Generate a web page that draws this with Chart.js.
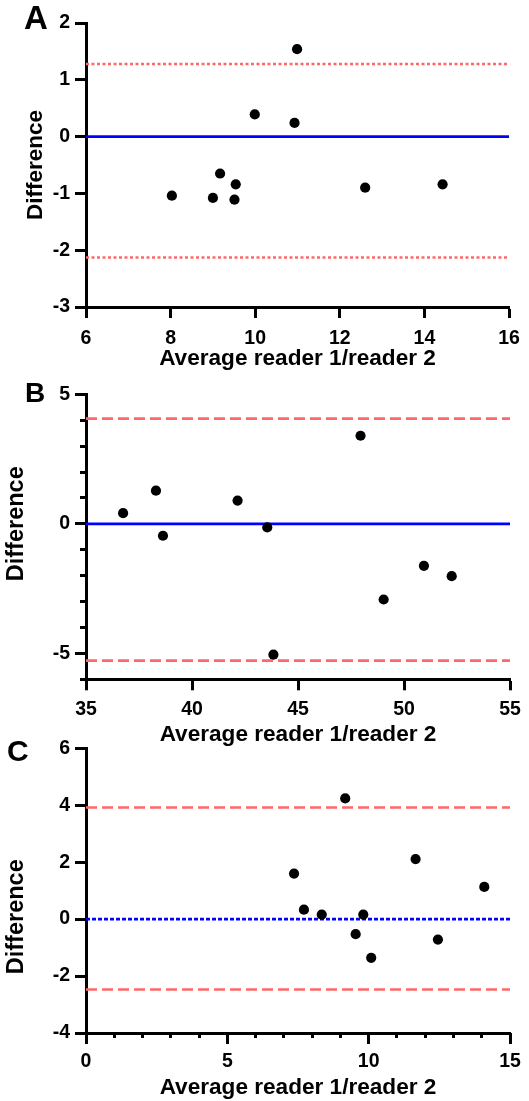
<!DOCTYPE html>
<html><head><meta charset="utf-8">
<script src="https://cdn.jsdelivr.net/npm/chart.js@4.4.0/dist/chart.umd.min.js"></script>
<style>
html,body{margin:0;padding:0;background:#fff;width:529px;height:1101px;overflow:hidden;position:relative;font-family:"Liberation Sans",Arial,sans-serif;}
canvas{position:absolute;left:0;}
.lbl{position:absolute;font-weight:bold;line-height:1;color:#000;font-family:"Liberation Sans",Arial,sans-serif;}
</style></head><body>
<canvas id="cA" width="529" height="372" style="top:0px;width:529px;height:372px"></canvas>
<canvas id="cB" width="529" height="382" style="top:370px;width:529px;height:382px"></canvas>
<canvas id="cC" width="529" height="376" style="top:725px;width:529px;height:376px"></canvas>
<div class="lbl" style="left:24px;top:1px;font-size:33px">A</div>
<div class="lbl" style="left:25px;top:379px;font-size:28px">B</div>
<div class="lbl" style="left:7px;top:736px;font-size:30px">C</div>
<script>
// ---- Panel A ----
const A_x = [8.03, 9.00, 9.17, 9.51, 9.54, 9.99, 10.93, 10.99, 12.60, 14.43];
const A_y = [-1.04, -1.08, -0.65, -1.11, -0.84, 0.39, 0.24, 1.54, -0.90, -0.84];
const A_mean = 0, A_upper = 1.28, A_lower = -2.13;
const A_xTicks = [6, 8, 10, 12, 14, 16];
const A_yTicks = [-3, -2, -1, 0, 1, 2];
// ---- Panel B ----
const B_x = [36.75, 38.30, 38.63, 42.15, 43.55, 43.84, 47.95, 49.04, 50.94, 52.25];
const B_y = [0.41, 1.28, -0.46, 0.90, -0.14, -5.05, 3.40, -2.92, -1.62, -2.02];
const B_mean = 0, B_upper = 4.06, B_lower = -5.28;
const B_xTicks = [35, 40, 45, 50, 55];
const B_yTicks = [-5, 0, 5];
const B_yMinor = [-6, -5, -4, -3, -2, -1, 0, 1, 2, 3, 4, 5];
// ---- Panel C ----
const C_x = [7.36, 7.71, 8.34, 9.17, 9.54, 9.81, 10.09, 11.66, 12.45, 14.09];
const C_y = [1.60, 0.33, 0.16, 4.24, -0.53, 0.16, -1.36, 2.11, -0.72, 1.13];
const C_mean = 0, C_upper = 3.92, C_lower = -2.47;
const C_xTicks = [0, 5, 10, 15];
const C_xMinor = [0, 1, 2, 3, 4, 5, 6, 7, 8, 9, 10, 11, 12, 13, 14, 15];
const C_yTicks = [-4, -2, 0, 2, 4, 6];

const X_TITLE = 'Average reader 1/reader 2';
const FAM = '"Liberation Sans", Arial, sans-serif';
const RED = '#ff6868', BLUE = '#0000ff';

function hline(xMin, xMax, y, color, dash, width) {
  return {
    type: 'scatter', showLine: true, data: [{x: xMin, y: y}, {x: xMax, y: y}],
    borderColor: color, borderWidth: width, borderDash: dash, pointRadius: 0,
    fill: false, borderCapStyle: 'butt'
  };
}

function panel(id, o) {
  const pts = o.xs.map((x, i) => ({x: x, y: o.ys[i]}));
  const scales = {};
  scales.x = {
    type: 'linear', position: 'bottom', min: o.xMin, max: o.xMax, weight: 0,
    afterBuildTicks: s => { s.ticks = o.xTicks.map(v => ({value: v})); },
    afterFit: s => { s.height = o.xAxisH; },
    grid: {drawOnChartArea: false, drawTicks: true, tickLength: 11, tickWidth: 3, tickColor: '#000'},
    border: {display: true, color: '#000', width: 3},
    ticks: {color: '#000', font: {family: FAM, size: 19.5, weight: 'bold'}, padding: o.xPad,
            maxRotation: 0, autoSkip: false, callback: v => String(v)},
    title: {display: true, text: X_TITLE, color: '#000',
            font: {family: FAM, size: 22.6, weight: 'bold'}, padding: {top: 0, bottom: o.xTitlePad}}
  };
  scales.y = {
    type: 'linear', position: 'left', min: o.yMin, max: o.yMax, weight: 0,
    afterBuildTicks: s => { s.ticks = o.yTicks.map(v => ({value: v})); },
    afterFit: s => { s.width = 86; },
    grid: {drawOnChartArea: false, drawTicks: true, tickLength: 11, tickWidth: 3, tickColor: '#000'},
    border: {display: true, color: '#000', width: 3},
    ticks: {color: '#000', font: {family: FAM, size: 19.5, weight: 'bold'}, padding: 5,
            autoSkip: false, callback: v => String(v)},
    title: {display: true, text: o.yTitle, color: '#000',
            font: {family: FAM, size: o.yTitleSize, weight: 'bold'}, padding: {top: o.yTitlePad, bottom: 0}}
  };
  if (o.xMinor) {
    scales.xm = {
      type: 'linear', position: {y: o.yMin}, axis: 'x', min: o.xMin, max: o.xMax,
      afterBuildTicks: s => { s.ticks = o.xMinor.map(v => ({value: v})); },
      afterFit: s => { s.height = 0; },
      grid: {drawOnChartArea: false, drawTicks: true, tickLength: 5, tickWidth: 3, tickColor: '#000'},
      border: {display: false}, ticks: {display: false}, title: {display: false}
    };
  }
  if (o.yMinor) {
    scales.ym = {
      type: 'linear', position: {x: o.xMin}, axis: 'y', min: o.yMin, max: o.yMax,
      afterBuildTicks: s => { s.ticks = o.yMinor.map(v => ({value: v})); },
      afterFit: s => { s.width = 0; },
      grid: {drawOnChartArea: false, drawTicks: true, tickLength: 6, tickWidth: 3, tickColor: '#000'},
      border: {display: false}, ticks: {display: false}, title: {display: false}
    };
  }
  return new Chart(document.getElementById(id), {
    type: 'scatter',
    data: {
      datasets: [
        {data: pts, backgroundColor: '#000', borderWidth: 0, pointRadius: 5.1, pointHoverRadius: 5.1},
        hline(o.xMin, o.xMax, o.mean, BLUE, o.meanDash, 2.8),
        hline(o.xMin, o.xMax, o.upper, RED, o.limDash, o.limW),
        hline(o.xMin, o.xMax, o.lower, RED, o.limDash, o.limW)
      ]
    },
    options: {
      responsive: false, animation: false, events: [],
      layout: {padding: {top: o.padTop, right: o.padRight, bottom: 0, left: 0}},
      plugins: {legend: {display: false}, tooltip: {enabled: false}, title: {display: false}},
      scales: scales
    }
  });
}

panel('cA', {xs: A_x, ys: A_y, mean: A_mean, upper: A_upper, lower: A_lower,
  xMin: 6, xMax: 16, yMin: -3, yMax: 2, xTicks: A_xTicks, yTicks: A_yTicks,
  padTop: 23, padRight: 20, xAxisH: 65, xPad: 9, xTitlePad: 0,
  yTitle: 'Difference', yTitleSize: 22.5, yTitlePad: 22,
  meanDash: [], limDash: [3, 2.5], limW: 2.5});

panel('cB', {xs: B_x, ys: B_y, mean: B_mean, upper: B_upper, lower: B_lower,
  xMin: 35, xMax: 55, yMin: -6, yMax: 5, xTicks: B_xTicks, yTicks: B_yTicks, yMinor: B_yMinor,
  padTop: 24.3, padRight: 19, xAxisH: 72.7, xPad: 8, xTitlePad: 4,
  yTitle: '    Difference', yTitleSize: 23.5, yTitlePad: 2,
  meanDash: [], limDash: [11, 5], limW: 2.6});

panel('cC', {xs: C_x, ys: C_y, mean: C_mean, upper: C_upper, lower: C_lower,
  xMin: 0, xMax: 15, yMin: -4, yMax: 6, xTicks: C_xTicks, yTicks: C_yTicks, xMinor: C_xMinor,
  padTop: 23.3, padRight: 19, xAxisH: 68, xPad: 5.5, xTitlePad: 0,
  yTitle: 'Difference        ', yTitleSize: 23.5, yTitlePad: 2,
  meanDash: [4, 2], limDash: [11, 5], limW: 2.6});
</script>
</body></html>
